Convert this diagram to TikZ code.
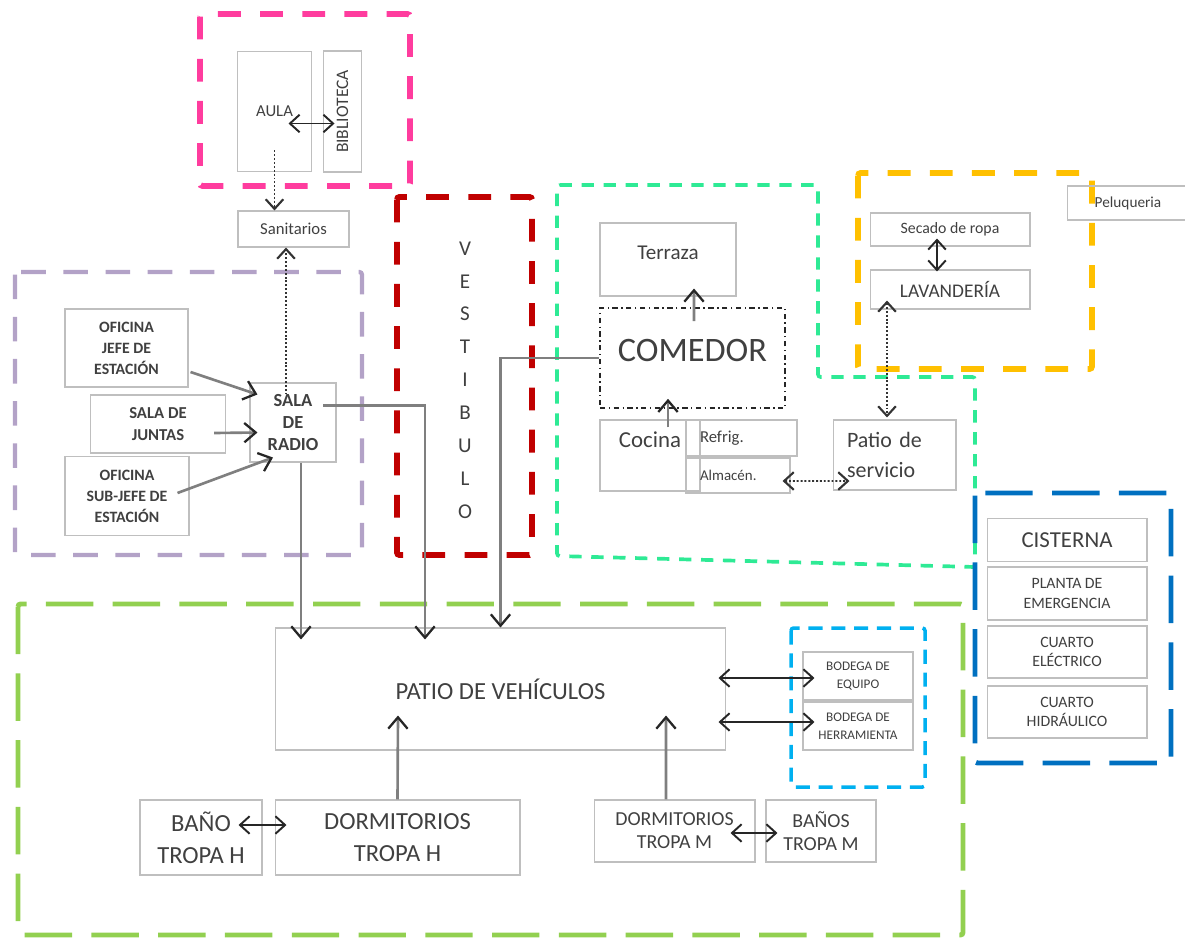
\documentclass[tikz,border=0pt]{standalone}
\usepackage{fontspec}
\setmainfont{Carlito}
\usepackage{graphicx}
\usetikzlibrary{arrows.meta,calc}
\definecolor{zpink}{HTML}{FF3C9E}
\definecolor{zred}{HTML}{C00000}
\definecolor{zlilac}{HTML}{B3A2C7}
\definecolor{zmint}{HTML}{2EEA95}
\definecolor{zorange}{HTML}{FFC000}
\definecolor{zblue}{HTML}{0070C0}
\definecolor{zsky}{HTML}{00B0F0}
\definecolor{zlime}{HTML}{92D050}
\definecolor{boxgray}{HTML}{BFBFBF}
\definecolor{txtgray}{HTML}{404040}
\definecolor{linkgray}{HTML}{7F7F7F}
\newcommand{\fsz}[2]{\fontsize{#1}{#2}\selectfont}

\begin{document}
\begin{tikzpicture}[x=0.02cm,y=-0.02cm,
        room/.style={draw=boxgray,line width=0.6pt,inner sep=1pt,align=center,text=txtgray},
        zone/.style={line width=#1,rounded corners=1.5pt},
        link/.style={linkgray,line width=1.5pt,
            arrows={-Straight Barb[length=6.5pt,width=11pt,line width=1.3pt,color=black!85]}},
        twoway/.style={black!85,line width=1.1pt,
            arrows={Straight Barb[length=5.5pt,width=10pt]-Straight Barb[length=5.5pt,width=10pt]}},
        dotlink/.style={black!80,line width=1.1pt,dash pattern=on 1.1pt off 1.1pt,
            arrows={-Straight Barb[length=5.5pt,width=10pt,line width=1.2pt]}},
        dotboth/.style={dotlink,
            arrows={Straight Barb[length=5.5pt,width=10pt,line width=1.2pt]-Straight Barb[length=5.5pt,width=10pt,line width=1.2pt]}}]
\useasboundingbox (0,0) rectangle (1185,939);

\draw[zpink,zone=3.3pt,dash pattern=on 13pt off 11pt] (200,14) rectangle (410,186);
\draw[zred,zone=3.4pt,dash pattern=on 13pt off 11pt] (397,197) rectangle (532,555);
\draw[zlilac,zone=2.4pt,dash pattern=on 14pt off 10pt] (15,272) rectangle (362,555);
\draw[zmint,zone=2.1pt,dash pattern=on 7pt off 5.5pt] (557,185) -- (818,185) -- (818,377)
    -- (975,377) -- (975,567) -- (557,556) -- cycle;
\draw[zorange,zone=3.3pt,dash pattern=on 13pt off 11pt] (858,173) rectangle (1092,369);
\draw[zblue,zone=2.8pt,dash pattern=on 27pt off 11pt] (975,493) rectangle (1171,763);
\draw[zlime,zone=2.8pt,dash pattern=on 27pt off 11pt] (18,604) rectangle (963,935);
\draw[zsky,zone=2pt,dash pattern=on 8pt off 5pt] (791,628) rectangle (925,787);

\node[room,minimum width=1.48cm,minimum height=2.4cm,font=\fsz{9.5}{11}] (aula) at (274.5,111.5) {AULA};
\node[room,minimum width=0.76cm,minimum height=2.42cm,font=\fsz{10}{11}] (biblio) at (342.5,111.5) {\rotatebox{90}{BIBLIOTECA}};
\node[room,minimum width=2.22cm,minimum height=0.72cm,font=\fsz{9.5}{11}] (sanit) at (293.5,229) {Sanitarios};

\node[text=txtgray,align=center,font=\fsz{12}{18.7}] (vestib) at (465,380) {V\\E\\S\\T\\I\\B\\U\\L\\O};

\node[room,minimum width=2.46cm,minimum height=1.56cm,font=\bfseries\fsz{9}{12}] (jefe) at (126.5,348) {OFICINA\\JEFE DE\\ESTACIÓN};
\node[room,minimum width=2.7cm,minimum height=1.16cm,font=\bfseries\fsz{9.5}{12.5}] (juntas) at (158,424) {SALA DE\\JUNTAS};
\node[room,minimum width=2.48cm,minimum height=1.58cm,font=\bfseries\fsz{9}{12}] (subjefe) at (127,496) {OFICINA\\SUB-JEFE DE\\ESTACIÓN};
\node[room,minimum width=1.72cm,minimum height=1.58cm,font=\bfseries\fsz{10.5}{12.5}] (radio) at (293,422.5) {SALA\\DE\\RADIO};

\node[room,minimum width=2.72cm,minimum height=1.46cm,text depth=0.26cm,font=\fsz{12}{14}] (terraza) at (668,259.5) {Terraza};
\node[draw=black!85,line width=0.9pt,dash pattern=on 3pt off 2pt on 0.8pt off 2pt,minimum width=3.7cm,minimum height=2cm,
    text depth=0.32cm,text=txtgray,font=\fsz{19.5}{22}] (comedor) at (692.5,358) {COMEDOR};
\node[room,minimum width=2cm,minimum height=1.42cm,text depth=0.62cm,font=\fsz{13}{15}] (cocina) at (650,455.5) {Cocina};
\node[room,minimum width=2.22cm,minimum height=0.72cm,text width=1.66cm,align=left,font=\fsz{9.5}{10}] (refrig) at (741.5,438) {Refrig.};
\node[room,minimum width=2.08cm,minimum height=0.7cm,text width=1.52cm,align=left,font=\fsz{8.5}{9}] (almacen) at (738,475.5) {Almacén.};
\node[room,minimum width=2.46cm,minimum height=1.4cm,text width=1.9cm,align=left,font=\fsz{12.5}{17}] (patserv) at (894.5,455) {Patio de\\servicio};

\node[room,minimum width=3.2cm,minimum height=0.66cm,font=\fsz{9}{10}] (secado) at (950,229.5) {Secado de ropa};
\node[room,minimum width=3.2cm,minimum height=0.78cm,font=\fsz{11}{12}] (lavand) at (950,289.5) {LAVANDERÍA};
\node[room,minimum width=2.44cm,minimum height=0.68cm,font=\fsz{8.7}{10}] (pelu) at (1128,203) {Peluqueria};

\node[room,minimum width=3.2cm,minimum height=0.86cm,font=\fsz{13}{15}] (cisterna) at (1067,540) {CISTERNA};
\node[room,minimum width=3.2cm,minimum height=1.06cm,font=\fsz{9}{11.3}] (planta) at (1067,593.5) {PLANTA DE\\EMERGENCIA};
\node[room,minimum width=3.2cm,minimum height=1.04cm,font=\fsz{9}{11}] (electrico) at (1067,652) {CUARTO\\ELÉCTRICO};
\node[room,minimum width=3.2cm,minimum height=1.04cm,font=\fsz{9}{11}] (hidraulico) at (1067,712) {CUARTO\\HIDRÁULICO};

\node[room,minimum width=9.02cm,minimum height=2.44cm,font=\fsz{14}{16}] (patio) at (500.5,689) {PATIO DE VEHÍCULOS};
\node[room,minimum width=2.2cm,minimum height=0.96cm,font=\fsz{7.5}{10}] (bequipo) at (858,676) {BODEGA DE\\EQUIPO};
\node[room,minimum width=2.2cm,minimum height=0.96cm,font=\fsz{7.5}{10}] (bherram) at (858,726) {BODEGA DE\\HERRAMIENTA};
\node[room,minimum width=2.44cm,minimum height=1.5cm,font=\fsz{14}{18}] (banoh) at (201,837.5) {BAÑO\\TROPA H};
\node[room,minimum width=4.9cm,minimum height=1.5cm,font=\fsz{14}{18}] (dormh) at (397.5,837.5) {DORMITORIOS\\TROPA H};
\node[room,minimum width=3.22cm,minimum height=1.24cm,font=\fsz{11.3}{13}] (dormm) at (674.5,831) {DORMITORIOS\\TROPA M};
\node[room,minimum width=2.2cm,minimum height=1.24cm,font=\fsz{11.3}{13}] (banosm) at (821,831) {BAÑOS\\TROPA M};

\coordinate (radiotop) at ($(radio.north)+(-7,12)$);

\draw[twoway] ($(aula.center)+(14,12)$) -- ($(biblio.center)+(-8,12)$);
\draw[dotlink] ($(aula.center)+(0,39)$) -- (aula.center |- sanit.north);
\draw[dotlink] (radiotop) -- (radiotop |- sanit.south);

\draw[link] ($(jefe.east)+(2,24)$) -- ($(radio.west)+(8,-28)$);
\draw[link] ($(juntas.east)+(-12,9)$) -- ($(radio.west)+(8,10)$);
\draw[link] ($(subjefe.east)+(-12,-3)$) -- ($(radio.south)+(-20,-5)$);

\draw[link] ($(radio.center)+(30,-17)$) -| ($(patio.north)+(-75.5,12)$);
\draw[link] ($(radio.south)+(8,0)$) -- ($(patio.north)+(-199.5,12)$);
\draw[link] (comedor.west) -| (patio.north);

\draw[link] ($(comedor.north)+(1.5,14)$) -- ($(terraza.south)+(26,-8)$);
\draw[link] ($(cocina.north)+(18,8)$) -- ($(comedor.south)+(-24.5,-10)$);
\draw[dotboth] ($(almacen.east)+(-8,5.5)$) -- ($(patserv.west)+(17,26)$);
\draw[dotboth] ($(lavand.south)+(-63,-9)$) -- ($(patserv.north)+(-7.5,-2)$);
\draw[twoway] ($(secado.south)+(-13,-8)$) -- ($(lavand.north)+(-13,2)$);

\draw[twoway] ($(patio.east)+(-8,-11)$) -- ($(bequipo.west)+(12,2)$);
\draw[twoway] ($(patio.east)+(-8,33)$) -- ($(bherram.west)+(12,-4)$);
\draw[link] (dormh.north) -- ($(patio.south)+(-102.5,-35)$);
\draw[link] ($(dormm.north)+(-8.5,0)$) -- ($(patio.south)+(165.5,-35)$);
\draw[twoway] ($(banoh.east)+(-24,-12.5)$) -- ($(dormh.west)+(12,-12.5)$);
\draw[twoway] ($(dormm.east)+(-25,2)$) -- ($(banosm.west)+(12,2)$);
\end{tikzpicture}
\end{document}
